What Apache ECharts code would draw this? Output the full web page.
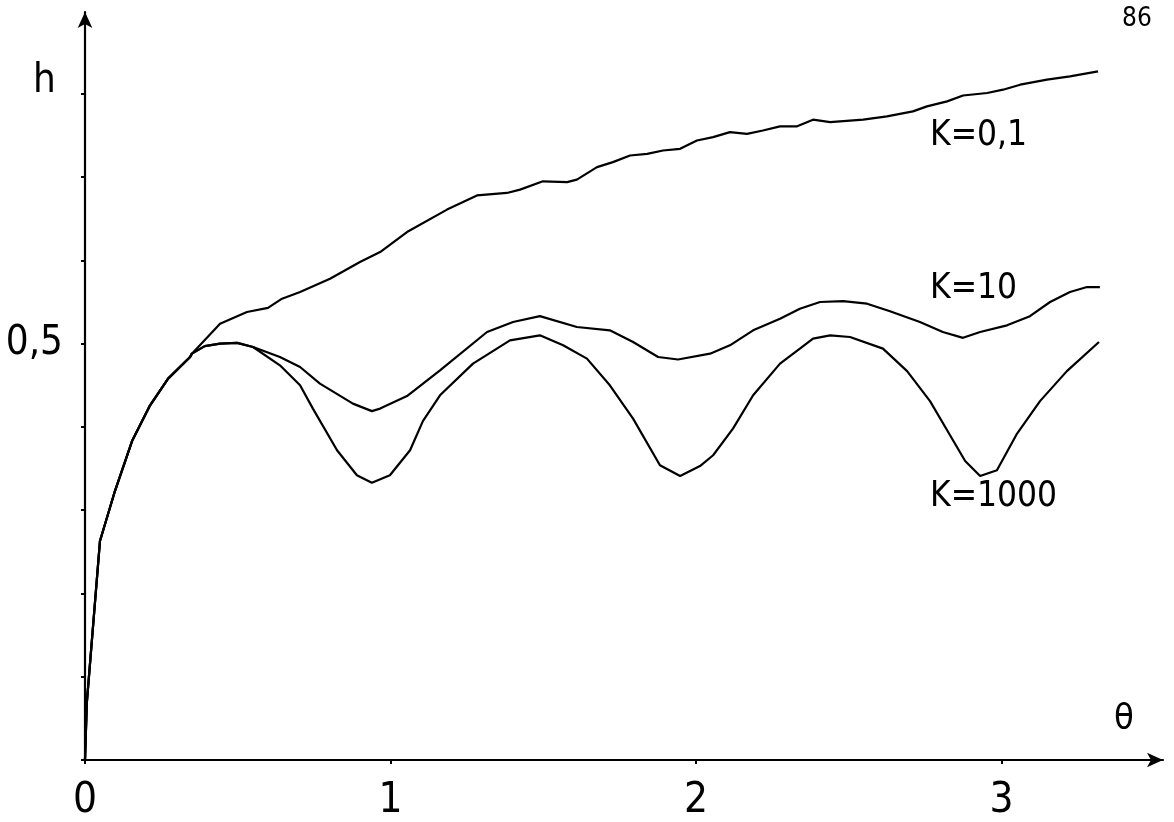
<!DOCTYPE html>
<html>
<head>
<meta charset="utf-8">
<script src="https://cdn.jsdelivr.net/npm/echarts@6/dist/echarts.min.js"></script>
<style>
html,body{margin:0;padding:0;background:#fff;}
#chart{width:1174px;height:822px;}
</style>
</head>
<body>
<div id="chart"></div>
<script>
// Shared initial rise (all K coincide)
var riseAll = [[0,0],[0.006,0.069],[0.049,0.263],[0.098,0.323],[0.154,0.383],[0.213,0.426],[0.272,0.458],[0.344,0.484],[0.350,0.488]];
// K=0,1 continuation
var k01 = [[0.442,0.524],[0.530,0.538],[0.599,0.543],[0.645,0.554],[0.704,0.562],[0.802,0.578],[0.900,0.598],[0.966,0.610],[1.054,0.634],[1.185,0.661],[1.283,0.678],[1.381,0.681],[1.424,0.685],[1.499,0.695],[1.578,0.694],[1.610,0.697],[1.676,0.712],[1.728,0.718],[1.784,0.726],[1.840,0.728],[1.892,0.732],[1.948,0.734],[2.003,0.744],[2.056,0.748],[2.111,0.754],[2.167,0.752],[2.219,0.756],[2.275,0.761],[2.331,0.761],[2.383,0.769],[2.439,0.766],[2.547,0.769],[2.625,0.773],[2.710,0.779],[2.756,0.785],[2.822,0.791],[2.874,0.798],[2.953,0.801],[3.005,0.805],[3.061,0.811],[3.149,0.817],[3.224,0.821],[3.316,0.827]];
// K=10 and K=1000 shared part
var riseHigh = [[0.392,0.497],[0.442,0.500],[0.498,0.501],[0.550,0.496]];
// K=10 continuation
var k10 = [[0.638,0.484],[0.704,0.472],[0.769,0.452],[0.877,0.428],[0.939,0.419],[0.966,0.422],[1.054,0.437],[1.162,0.468],[1.316,0.514],[1.401,0.526],[1.489,0.533],[1.610,0.520],[1.718,0.516],[1.794,0.502],[1.876,0.484],[1.941,0.481],[2.046,0.488],[2.111,0.498],[2.187,0.516],[2.275,0.530],[2.340,0.542],[2.406,0.550],[2.481,0.551],[2.560,0.548],[2.635,0.539],[2.733,0.526],[2.808,0.514],[2.874,0.507],[2.930,0.514],[3.018,0.522],[3.093,0.533],[3.159,0.550],[3.224,0.562],[3.280,0.568],[3.322,0.568]];
// K=1000 continuation
var k1000 = [[0.638,0.474],[0.704,0.450],[0.746,0.422],[0.825,0.372],[0.890,0.342],[0.939,0.333],[0.998,0.342],[1.064,0.372],[1.106,0.407],[1.162,0.438],[1.270,0.476],[1.391,0.504],[1.489,0.510],[1.565,0.498],[1.643,0.482],[1.718,0.450],[1.794,0.410],[1.882,0.354],[1.948,0.341],[2.013,0.353],[2.056,0.366],[2.121,0.398],[2.187,0.438],[2.275,0.476],[2.340,0.494],[2.383,0.506],[2.439,0.510],[2.504,0.508],[2.612,0.494],[2.691,0.467],[2.766,0.431],[2.822,0.396],[2.881,0.359],[2.930,0.341],[2.985,0.348],[3.051,0.392],[3.126,0.431],[3.214,0.467],[3.319,0.502]];
var xTickLabels = ['0','1','2','3'];
var yTickLabel = '0,5';
var curveLabels = ['K=0,1','K=10','K=1000'];

var FONT = "'Liberation Sans Narrow','DejaVu Sans Condensed','Liberation Sans',sans-serif";
var lineStyle = {color:'#000', width:2.2};
function mk(data){
  return {type:'line', data:data, showSymbol:false, symbol:'none', smooth:false, lineStyle:lineStyle, silent:true, animation:false};
}
var chart = echarts.init(document.getElementById('chart'), null, {renderer:'canvas'});
chart.setOption({
  backgroundColor:'#fff',
  animation:false,
  grid:{left:85, top:12, width:1078, height:751, containLabel:false},
  xAxis:{
    type:'value', min:0, max:3.5286, interval:1,
    splitLine:{show:false},
    axisLine:{show:true, onZero:false, symbol:['none','arrow'], symbolSize:[11,16], lineStyle:{color:'#000', width:2.2}},
    axisTick:{show:true, length:4, lineStyle:{color:'#000', width:2}},
    axisLabel:{margin:20, color:'#000', fontFamily:FONT, fontSize:42, showMaxLabel:false,
      formatter:function(v){ var i=Math.round(v); return (Math.abs(v-i)<1e-6 && i<xTickLabels.length) ? xTickLabels[i] : ''; }}
  },
  yAxis:{
    type:'value', min:0, max:0.8983, interval:0.1,
    splitLine:{show:false},
    axisLine:{show:true, onZero:false, symbol:['none','arrow'], symbolSize:[11,16], lineStyle:{color:'#000', width:2.2}},
    axisTick:{show:true, length:4, lineStyle:{color:'#000', width:2}},
    axisLabel:{margin:22, color:'#000', fontFamily:FONT, fontSize:40, showMaxLabel:false,
      formatter:function(v){ return Math.abs(v-0.5)<1e-6 ? yTickLabel : ''; }}
  },
  series:[
    mk(riseAll.concat(k01)),
    mk(riseAll.concat(riseHigh).concat(k10)),
    mk(riseAll.concat(riseHigh).concat(k1000))
  ],
  graphic:[
    {type:'text', left:33, top:62, style:{text:'h', font:'40px '+FONT, fill:'#000'}},
    {type:'text', left:1114, top:702, style:{text:'θ', font:'36px '+FONT, fill:'#000'}},
    {type:'text', left:1122, top:6, style:{text:'86', font:'26px '+FONT, fill:'#000'}},
    {type:'text', left:930, top:118, style:{text:curveLabels[0], font:'35px '+FONT, fill:'#000'}},
    {type:'text', left:930, top:271, style:{text:curveLabels[1], font:'35px '+FONT, fill:'#000'}},
    {type:'text', left:930, top:479, style:{text:curveLabels[2], font:'35px '+FONT, fill:'#000'}}
  ]
});
</script>
</body>
</html>
